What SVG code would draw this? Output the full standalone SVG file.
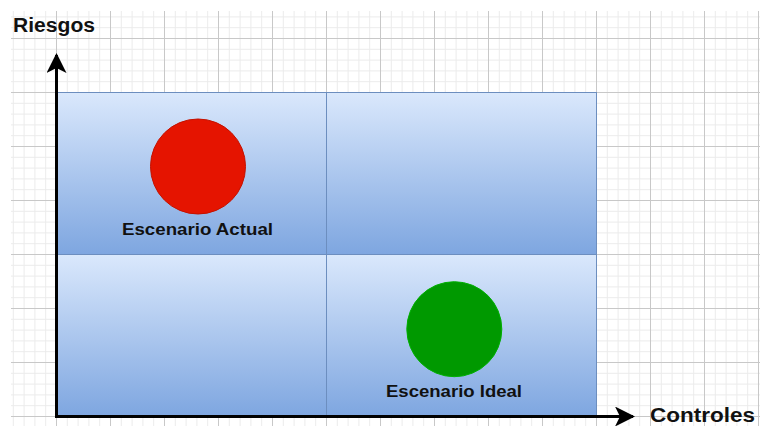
<svg xmlns="http://www.w3.org/2000/svg" width="760" height="426" viewBox="0 0 760 426">
  <style>
    .quad { stroke: #6c8ebf; stroke-width: 1; fill: url(#qgrad); }
    .axis { stroke: #000000; stroke-width: 3; fill: none; }
    .lbl { font-family: "Liberation Sans", Arial, sans-serif; font-weight: bold; fill: #111111; }
    .title { font-size: 20px; }
    .sub { font-size: 16px; text-anchor: middle; }
  </style>
  <defs>
    <linearGradient id="qgrad" x1="0" y1="0" x2="0" y2="1">
      <stop offset="0" stop-color="#dae8fc"/>
      <stop offset="1" stop-color="#7ea6e0"/>
    </linearGradient>
    <pattern id="grid" x="2" y="-16" width="54" height="54" patternUnits="userSpaceOnUse">
      <path d="M11.3 0V54M22.1 0V54M32.9 0V54M43.7 0V54M0 11.3H54M0 22.1H54M0 32.9H54M0 43.7H54" stroke="#ebebeb" stroke-width="1" fill="none"/>
      <path d="M0.5 0V54M0 0.5H54" stroke="#c8c8c8" stroke-width="1" fill="none"/>
    </pattern>
    <marker id="arrow" viewBox="0 0 20 20" refX="18" refY="10" markerWidth="20" markerHeight="20" markerUnits="userSpaceOnUse" orient="auto">
      <path d="M0 0 L20 10 L0 20 L5 10 Z" fill="#000000"/>
    </marker>
  </defs>
  <rect x="0" y="0" width="760" height="426" fill="#ffffff"/>
  <rect x="11" y="11" width="749" height="415" fill="url(#grid)"/>

  <g id="q1"><rect class="quad" x="56.5" y="92.5" width="270" height="162"/></g>
  <g id="q2"><rect class="quad" x="326.5" y="92.5" width="270" height="162"/></g>
  <g id="q3"><rect class="quad" x="56.5" y="254.5" width="270" height="162"/></g>
  <g id="q4"><rect class="quad" x="326.5" y="254.5" width="270" height="162"/></g>

  <g id="connectors">
    <path class="axis" d="M56.5 416 V55" marker-end="url(#arrow)"/>
    <path class="axis" d="M55 416.5 H633" marker-end="url(#arrow)"/>
  </g>

  <g id="riesgos"><text class="lbl title" x="13" y="32" textLength="82" lengthAdjust="spacingAndGlyphs">Riesgos</text></g>
  <g id="controles"><text class="lbl title" x="650" y="422" textLength="105" lengthAdjust="spacingAndGlyphs">Controles</text></g>

  <g id="actual">
    <circle cx="198" cy="166.5" r="47.5" fill="#e51400" stroke="#c41200" stroke-width="1"/>
    <text class="lbl sub" x="197.5" y="235" textLength="151" lengthAdjust="spacingAndGlyphs">Escenario Actual</text>
  </g>
  <g id="ideal">
    <circle cx="454.3" cy="329.2" r="47.5" fill="#009900" stroke="#00b000" stroke-width="1"/>
    <text class="lbl sub" x="454" y="396.5" textLength="136" lengthAdjust="spacingAndGlyphs">Escenario Ideal</text>
  </g>
</svg>
